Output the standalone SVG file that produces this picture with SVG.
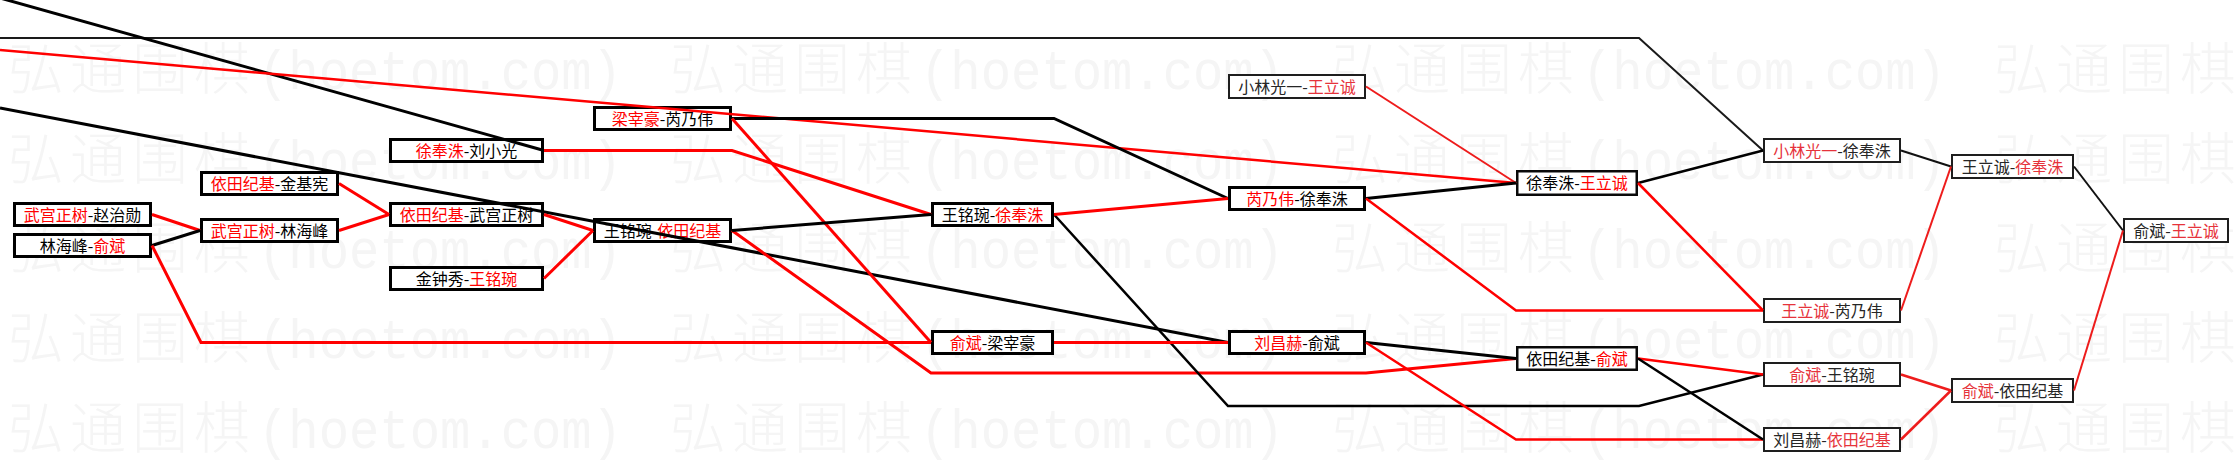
<svg xmlns="http://www.w3.org/2000/svg" width="2240" height="461" viewBox="0 0 2240 461">
<style>
.wm text{fill:#f5f5f5}
.wc{font-family:"Noto Sans CJK SC","Noto Sans CJK JP",sans-serif;font-size:56px;font-weight:300;letter-spacing:6px}
.wl{font-family:"Liberation Mono",monospace;font-size:56px}
.n rect{fill:#fff;stroke:#000;stroke-width:3}
.m rect{fill:#fff;stroke:#1e1e1e;stroke-width:2}
.g rect{fill:#fff;stroke:#0a0a0a;stroke-width:2.5}
.node text{font-family:"Noto Sans CJK SC","Noto Sans CJK JP",sans-serif;font-size:16px;text-anchor:middle}
.n text,.g text{fill:#000}
.n .r,.g .r{fill:#f00}
.m text{fill:#262626}
.m .r{fill:#e6333b}
.conn polyline,.conn line{fill:none;stroke-linejoin:miter}
.k{stroke:#000;stroke-width:3}
.rd{stroke:#f00;stroke-width:3}
.k2{stroke:#111;stroke-width:2}
.r2{stroke:#ee1c1c;stroke-width:2}
.top{stroke:#1a1a1a;stroke-width:2}
</style>
<rect x="0" y="0" width="2240" height="461" fill="#fff"/>
<g class="wm">
<text class="wc" x="8" y="89">弘通围棋</text><text class="wl" x="258" y="89" textLength="364" lengthAdjust="spacingAndGlyphs">(hoetom.com)</text>
<text class="wc" x="670" y="89">弘通围棋</text><text class="wl" x="920" y="89" textLength="364" lengthAdjust="spacingAndGlyphs">(hoetom.com)</text>
<text class="wc" x="1332" y="89">弘通围棋</text><text class="wl" x="1582" y="89" textLength="364" lengthAdjust="spacingAndGlyphs">(hoetom.com)</text>
<text class="wc" x="1994" y="89">弘通围棋</text>
<text class="wc" x="8" y="179">弘通围棋</text><text class="wl" x="258" y="179" textLength="364" lengthAdjust="spacingAndGlyphs">(hoetom.com)</text>
<text class="wc" x="670" y="179">弘通围棋</text><text class="wl" x="920" y="179" textLength="364" lengthAdjust="spacingAndGlyphs">(hoetom.com)</text>
<text class="wc" x="1332" y="179">弘通围棋</text><text class="wl" x="1582" y="179" textLength="364" lengthAdjust="spacingAndGlyphs">(hoetom.com)</text>
<text class="wc" x="1994" y="179">弘通围棋</text>
<text class="wc" x="8" y="268">弘通围棋</text><text class="wl" x="258" y="268" textLength="364" lengthAdjust="spacingAndGlyphs">(hoetom.com)</text>
<text class="wc" x="670" y="268">弘通围棋</text><text class="wl" x="920" y="268" textLength="364" lengthAdjust="spacingAndGlyphs">(hoetom.com)</text>
<text class="wc" x="1332" y="268">弘通围棋</text><text class="wl" x="1582" y="268" textLength="364" lengthAdjust="spacingAndGlyphs">(hoetom.com)</text>
<text class="wc" x="1994" y="268">弘通围棋</text>
<text class="wc" x="8" y="358">弘通围棋</text><text class="wl" x="258" y="358" textLength="364" lengthAdjust="spacingAndGlyphs">(hoetom.com)</text>
<text class="wc" x="670" y="358">弘通围棋</text><text class="wl" x="920" y="358" textLength="364" lengthAdjust="spacingAndGlyphs">(hoetom.com)</text>
<text class="wc" x="1332" y="358">弘通围棋</text><text class="wl" x="1582" y="358" textLength="364" lengthAdjust="spacingAndGlyphs">(hoetom.com)</text>
<text class="wc" x="1994" y="358">弘通围棋</text>
<text class="wc" x="8" y="448">弘通围棋</text><text class="wl" x="258" y="448" textLength="364" lengthAdjust="spacingAndGlyphs">(hoetom.com)</text>
<text class="wc" x="670" y="448">弘通围棋</text><text class="wl" x="920" y="448" textLength="364" lengthAdjust="spacingAndGlyphs">(hoetom.com)</text>
<text class="wc" x="1332" y="448">弘通围棋</text><text class="wl" x="1582" y="448" textLength="364" lengthAdjust="spacingAndGlyphs">(hoetom.com)</text>
<text class="wc" x="1994" y="448">弘通围棋</text>
</g>
<g id="nodes">
<g id="a1" class="node n"><rect x="14.5" y="203.5" width="136" height="22"/><text x="82.5" y="220.5"><tspan class="r">武宫正树</tspan>-赵治勋</text></g>
<g id="a2" class="node n"><rect x="14.5" y="234.5" width="136" height="22"/><text x="82.5" y="251.5">林海峰-<tspan class="r">俞斌</tspan></text></g>
<g id="b1" class="node n"><rect x="201.5" y="172.5" width="136" height="22"/><text x="269.5" y="189.5"><tspan class="r">依田纪基</tspan>-金基宪</text></g>
<g id="b2" class="node n"><rect x="201.5" y="219.5" width="136" height="22"/><text x="269.5" y="236.5"><tspan class="r">武宫正树</tspan>-林海峰</text></g>
<g id="c1" class="node n"><rect x="390.5" y="139.5" width="152" height="22"/><text x="466.5" y="156.5"><tspan class="r">徐奉洙</tspan>-刘小光</text></g>
<g id="c2" class="node n"><rect x="390.5" y="203.5" width="152" height="22"/><text x="466.5" y="220.5"><tspan class="r">依田纪基</tspan>-武宫正树</text></g>
<g id="c3" class="node n"><rect x="390.5" y="267.5" width="152" height="22"/><text x="466.5" y="284.5">金钟秀-<tspan class="r">王铭琬</tspan></text></g>
<g id="d1" class="node n"><rect x="594.5" y="107.5" width="136" height="22"/><text x="662.5" y="124.5"><tspan class="r">梁宰豪</tspan>-芮乃伟</text></g>
<g id="d2" class="node n"><rect x="594.5" y="219.5" width="136" height="22"/><text x="662.5" y="236.5">王铭琬-<tspan class="r">依田纪基</tspan></text></g>
<g id="e1" class="node n"><rect x="932.5" y="203.5" width="120" height="22"/><text x="992.5" y="220.5">王铭琬-<tspan class="r">徐奉洙</tspan></text></g>
<g id="e2" class="node n"><rect x="932.5" y="331.5" width="120" height="22"/><text x="992.5" y="348.5"><tspan class="r">俞斌</tspan>-梁宰豪</text></g>
<g id="f1" class="node m"><rect x="1229" y="75" width="136" height="23"/><text x="1297" y="92.5">小林光一-<tspan class="r">王立诚</tspan></text></g>
<g id="f2" class="node n"><rect x="1229.5" y="187.5" width="135" height="22"/><text x="1297" y="204.5"><tspan class="r">芮乃伟</tspan>-徐奉洙</text></g>
<g id="f3" class="node n"><rect x="1229.5" y="331.5" width="135" height="22"/><text x="1297" y="348.5"><tspan class="r">刘昌赫</tspan>-俞斌</text></g>
<g id="g1" class="node g"><rect x="1517.25" y="171.25" width="119.5" height="23.5"/><text x="1577" y="189">徐奉洙-<tspan class="r">王立诚</tspan></text></g>
<g id="g2" class="node g"><rect x="1517.25" y="347.25" width="119.5" height="22.5"/><text x="1577" y="364.5">依田纪基-<tspan class="r">俞斌</tspan></text></g>
<g id="h1" class="node m"><rect x="1764" y="139" width="136" height="23"/><text x="1832" y="156.5"><tspan class="r">小林光一</tspan>-徐奉洙</text></g>
<g id="h2" class="node m"><rect x="1764" y="299" width="136" height="23"/><text x="1832" y="316.5"><tspan class="r">王立诚</tspan>-芮乃伟</text></g>
<g id="h3" class="node m"><rect x="1764" y="363" width="136" height="23"/><text x="1832" y="380.5"><tspan class="r">俞斌</tspan>-王铭琬</text></g>
<g id="h4" class="node m"><rect x="1764" y="428" width="136" height="23"/><text x="1832" y="445.5">刘昌赫-<tspan class="r">依田纪基</tspan></text></g>
<g id="i1" class="node m"><rect x="1952" y="155" width="121" height="23"/><text x="2012.5" y="172.5">王立诚-<tspan class="r">徐奉洙</tspan></text></g>
<g id="i2" class="node m"><rect x="1952" y="379" width="121" height="23"/><text x="2012.5" y="396.5"><tspan class="r">俞斌</tspan>-依田纪基</text></g>
<g id="j1" class="node m"><rect x="2124" y="219" width="104" height="23"/><text x="2176" y="236.5">俞斌-<tspan class="r">王立诚</tspan></text></g>
</g>
<g id="connectors" class="conn">
<polyline class="top" points="0,38 1639,38 1763,150.5"/>
<line class="k" x1="0" y1="-2" x2="544" y2="150.5"/>
<line class="rd" style="stroke-width:2.5" x1="0" y1="50" x2="1516" y2="183"/>
<line class="k" x1="0" y1="108" x2="1228" y2="342.5"/>
<line class="rd" x1="152" y1="214.5" x2="200" y2="230.5"/>
<line class="k" x1="152" y1="245.5" x2="200" y2="230.5"/>
<polyline class="rd" points="152,245.5 201,342.5 931,342.5"/>
<line class="rd" x1="339" y1="183.5" x2="389" y2="214.5"/>
<line class="rd" x1="339" y1="230.5" x2="389" y2="214.5"/>
<line class="rd" x1="544" y1="214.5" x2="593" y2="230.5"/>
<line class="rd" x1="544" y1="278.5" x2="593" y2="230.5"/>
<polyline class="rd" points="544,150.5 732,150.5 931,214.5"/>
<polyline class="k" points="732,118.5 1054,118.5 1228,198.5"/>
<line class="rd" x1="732" y1="118.5" x2="931" y2="342.5"/>
<polyline class="rd" points="732,230.5 931,373 1366,373 1516,358.5"/>
<line class="k" x1="732" y1="230.5" x2="931" y2="214.5"/>
<polyline class="k" style="stroke-width:2.5" points="1054,214.5 1228,406 1639,406 1763,374.5"/>
<line class="rd" x1="1054" y1="214.5" x2="1228" y2="198.5"/>
<line class="rd" x1="1054" y1="342.5" x2="1228" y2="342.5"/>
<line class="r2" x1="1366" y1="86.5" x2="1516" y2="183"/>
<line class="k" x1="1366" y1="198.5" x2="1516" y2="183"/>
<polyline class="rd" style="stroke-width:2.5" points="1366,198.5 1516,310.5 1763,310.5"/>
<line class="k" x1="1366" y1="342.5" x2="1516" y2="358.5"/>
<polyline class="rd" style="stroke-width:2.5" points="1366,342.5 1516,439.5 1763,439.5"/>
<line class="k" style="stroke-width:2.5" x1="1638" y1="183" x2="1763" y2="150.5"/>
<line class="rd" style="stroke-width:2.5" x1="1638" y1="183" x2="1763" y2="310.5"/>
<line class="rd" style="stroke-width:2.5" x1="1638" y1="358.5" x2="1763" y2="374.5"/>
<line class="k" style="stroke-width:2.5" x1="1638" y1="358.5" x2="1763" y2="439.5"/>
<line class="k2" x1="1901" y1="150.5" x2="1951" y2="166.5"/>
<line class="r2" x1="1901" y1="310.5" x2="1951" y2="166.5"/>
<line class="k2" x1="2074" y1="166.5" x2="2123" y2="230.5"/>
<line class="r2" x1="2074" y1="390.5" x2="2123" y2="230.5"/>
<line class="r2" style="stroke-width:2.5" x1="1901" y1="374.5" x2="1951" y2="390.5"/>
<line class="r2" style="stroke-width:2.5" x1="1901" y1="439.5" x2="1951" y2="390.5"/>
</g>
</svg>
